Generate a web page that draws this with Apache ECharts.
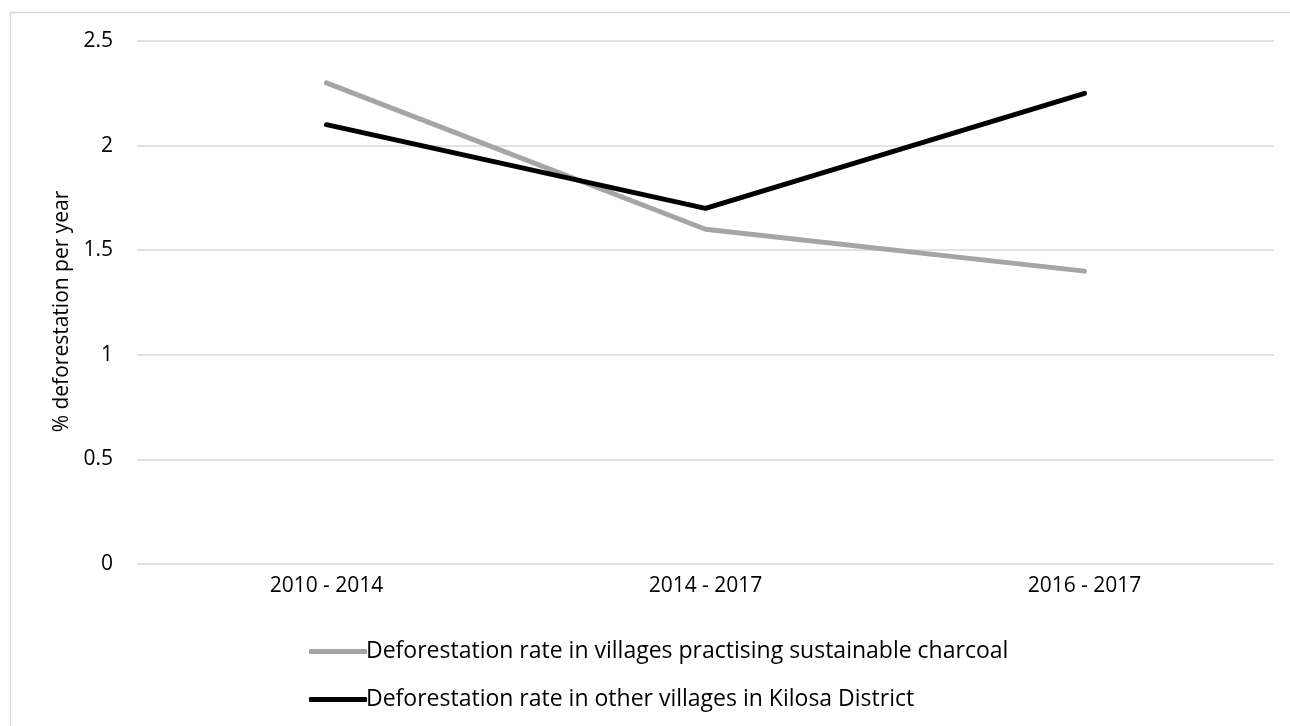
<!DOCTYPE html>
<html>
<head>
<meta charset="utf-8">
<script src="https://cdn.jsdelivr.net/npm/echarts@6/dist/echarts.min.js"></script>
<style>
html,body{margin:0;padding:0;background:#fff;}
#chart{width:1290px;height:726px;}
</style>
</head>
<body>
<div id="chart"></div>
<script>
const categories = ['2010 - 2014', '2014 - 2017', '2016 - 2017'];
const sustainableVillages = [2.3, 1.6, 1.4];
const otherVillages = [2.1, 1.7, 2.25];
const yTicks = [0, 0.5, 1, 1.5, 2, 2.5];
const seriesNames = [
  'Deforestation rate in villages practising sustainable charcoal',
  'Deforestation rate in other villages in Kilosa District'
];
const yAxisName = '% deforestation per year';

const FONT = '"Open Sans", "Noto Sans", sans-serif';
const legendBase = {
  orient: 'horizontal',
  left: 304,
  itemWidth: 58,
  itemHeight: 5,
  icon: 'roundRect',
  textStyle: { fontFamily: FONT, fontSize: 23, color: '#000', padding: [0, 0, 0, -6] }
};
const chart = echarts.init(document.getElementById('chart'));
chart.setOption({
  animation: false,
  backgroundColor: '#ffffff',
  graphic: [{
    type: 'rect',
    shape: { x: 10.5, y: 12.5, width: 1400, height: 900 },
    style: { fill: 'none', stroke: '#D9D9D9', lineWidth: 1.5 },
    silent: true, z: -10
  }],
  grid: { left: 137, right: 16, top: 41, bottom: 162, containLabel: false },
  legend: [
    Object.assign({}, legendBase, { top: 635, data: [seriesNames[0]] }),
    Object.assign({}, legendBase, { top: 683, data: [seriesNames[1]] })
  ],
  xAxis: {
    type: 'category',
    data: categories,
    boundaryGap: true,
    axisLine: { show: false },
    axisTick: { show: false },
    axisLabel: { fontFamily: FONT, fontSize: 21, color: '#000', margin: 12 }
  },
  yAxis: {
    type: 'value',
    min: 0, max: 2.5, interval: 0.5,
    name: yAxisName,
    nameLocation: 'middle',
    nameGap: 64,
    nameRotate: 90,
    nameTextStyle: { fontFamily: FONT, fontSize: 21, color: '#000', padding: [0, 18, 0, 0] },
    axisLine: { show: false },
    axisTick: { show: false },
    axisLabel: {
      fontFamily: FONT, fontSize: 21, color: '#000', margin: 24,
      formatter: v => yTicks.includes(v) ? String(v) : ''
    },
    splitLine: { lineStyle: { color: '#D9D9D9', width: 1.5 } }
  },
  series: [
    {
      name: seriesNames[0], type: 'line', data: sustainableVillages,
      symbol: 'none', color: '#A5A5A5',
      lineStyle: { width: 5, color: '#A5A5A5', cap: 'round', join: 'round' }
    },
    {
      name: seriesNames[1], type: 'line', data: otherVillages,
      symbol: 'none', color: '#000000',
      lineStyle: { width: 5, color: '#000000', cap: 'round', join: 'round' }
    }
  ]
});
</script>
</body>
</html>
